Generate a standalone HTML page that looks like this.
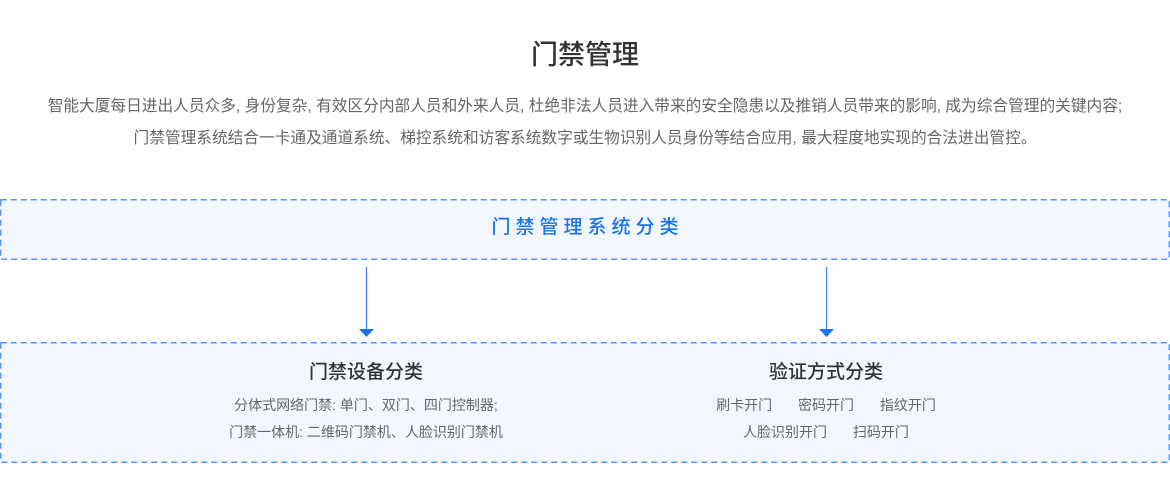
<!DOCTYPE html>
<html><head><meta charset="utf-8"><style>
*{margin:0;padding:0;box-sizing:border-box}
body{width:1170px;height:496px;background:#fff;font-family:"Liberation Sans","Noto Sans CJK SC",sans-serif;position:relative;overflow:hidden}
.a{position:absolute;white-space:nowrap}
.c{text-align:center}
</style></head><body>
<div class="a c" style="left:0;width:1170px;top:38px;font-size:27px;color:#333;line-height:34px;font-weight:500">门禁管理</div>
<div class="a c" style="left:0;width:1170px;top:96px;font-size:15.7px;color:#666;line-height:22px">智能大厦每日进出人员众多, 身份复杂, 有效区分内部人员和外来人员, 杜绝非法人员进入带来的安全隐患以及推销人员带来的影响, 成为综合管理的关键内容;</div>
<div class="a c" style="left:0;width:1170px;top:128px;font-size:15.7px;color:#666;line-height:22px">门禁管理系统结合一卡通及通道系统、梯控系统和访客系统数字或生物识别人员身份等结合应用, 最大程度地实现的合法进出管控。</div>
<svg class="a" style="left:0;top:0" width="1170" height="496">
<rect x="0.75" y="199.75" width="1168.5" height="59.5" fill="#f2f7fe" stroke="#3a82f0" stroke-width="1.2" stroke-dasharray="6,4"/>
<rect x="0.75" y="342.75" width="1168.5" height="119.5" fill="#f2f7fe" stroke="#3a82f0" stroke-width="1.2" stroke-dasharray="6,4"/>
<line x1="366.5" y1="267" x2="366.5" y2="330" stroke="#3a82f0" stroke-width="1.2"/>
<polygon points="359,329 374,329 366.5,337" fill="#1a73e8"/>
<line x1="826.5" y1="267" x2="826.5" y2="330" stroke="#3a82f0" stroke-width="1.2"/>
<polygon points="819,329 834,329 826.5,337" fill="#1a73e8"/>
</svg>
<div class="a c" style="left:0;width:1170px;top:215px;font-size:19px;color:#1a73e8;letter-spacing:5px;line-height:26px;font-weight:500;padding-left:5px">门禁管理系统分类</div>
<div class="a c" style="left:166px;width:400px;top:360px;font-size:19px;color:#333;line-height:26px;font-weight:500">门禁设备分类</div>
<div class="a c" style="left:166px;width:400px;top:395px;font-size:14px;color:#666;line-height:20px">分体式网络门禁: 单门、双门、四门控制器;</div>
<div class="a c" style="left:166px;width:400px;top:422px;font-size:14px;color:#666;line-height:20px">门禁一体机: 二维码门禁机、人脸识别门禁机</div>
<div class="a c" style="left:626px;width:400px;top:360px;font-size:19px;color:#333;line-height:26px;font-weight:500">验证方式分类</div>
<div class="a c" style="left:626px;width:400px;top:395px;font-size:14px;color:#666;line-height:20px;word-spacing:22px">刷卡开门 密码开门 指纹开门</div>
<div class="a c" style="left:626px;width:400px;top:422px;font-size:14px;color:#666;line-height:20px;word-spacing:22px">人脸识别开门 扫码开门</div>
</body></html>
